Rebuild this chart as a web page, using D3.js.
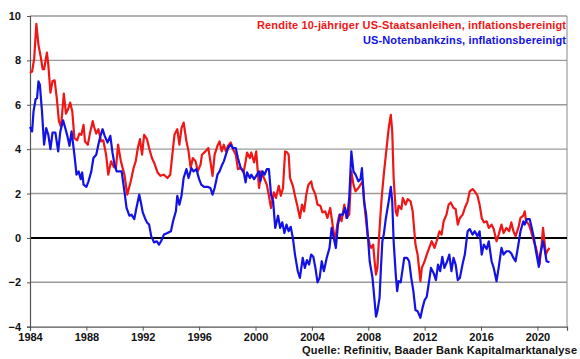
<!DOCTYPE html>
<html>
<head>
<meta charset="utf-8">
<script src="https://cdn.jsdelivr.net/npm/d3@7"></script>
<style>
    body { margin: 0; background: #fff; }
    svg { display: block; font-family: 'Liberation Sans', Arial, sans-serif; }
</style>
</head>
<body>
<div id="chart"></div>
<script>
// Rendite 10-jaehriger US-Staatsanleihen, inflationsbereinigt (rot)
const bondYears = [
    1984.0, 1984.15, 1984.3, 1984.45, 1984.6, 1984.75, 1984.9, 1985.0, 1985.2, 1985.3,
    1985.45, 1985.6, 1985.75, 1985.9, 1986.05, 1986.2, 1986.4, 1986.55, 1986.7, 1986.85,
    1987.0, 1987.15, 1987.35, 1987.5, 1987.65, 1987.8, 1987.9, 1988.1, 1988.25, 1988.45,
    1988.55, 1988.7, 1988.85, 1989.05, 1989.2, 1989.4, 1989.55, 1989.75, 1989.95, 1990.1,
    1990.25, 1990.45, 1990.7, 1990.9, 1991.15, 1991.35, 1991.5, 1991.65, 1991.8, 1991.95,
    1992.1, 1992.3, 1992.45, 1992.65, 1992.8, 1993.05, 1993.25, 1993.5, 1993.75, 1993.95,
    1994.1, 1994.25, 1994.45, 1994.6, 1994.75, 1994.9, 1995.1, 1995.25, 1995.4, 1995.55,
    1995.75, 1995.9, 1996.1, 1996.2, 1996.45, 1996.65, 1996.8, 1996.95, 1997.1, 1997.3,
    1997.45, 1997.6, 1997.75, 1997.9, 1998.05, 1998.25, 1998.4, 1998.6, 1998.75, 1998.95,
    1999.15, 1999.3, 1999.4, 1999.6, 1999.7, 1999.9, 2000.05, 2000.25, 2000.4, 2000.6,
    2000.8, 2000.95, 2001.1, 2001.3, 2001.45, 2001.65, 2001.8, 2001.95, 2002.1, 2002.25,
    2002.35, 2002.45, 2002.65, 2002.8, 2002.95, 2003.15, 2003.3, 2003.45, 2003.6, 2003.75,
    2003.95, 2004.05, 2004.25, 2004.4, 2004.6, 2004.75, 2004.95, 2005.1, 2005.3, 2005.5,
    2005.65, 2005.8, 2005.95, 2006.1, 2006.3, 2006.45, 2006.65, 2006.8, 2006.95, 2007.1,
    2007.3, 2007.45, 2007.6, 2007.75, 2007.95, 2008.1, 2008.2, 2008.35, 2008.45, 2008.55,
    2008.65, 2008.75, 2008.85, 2008.95, 2009.1, 2009.25, 2009.45, 2009.6, 2009.7, 2009.8,
    2009.95, 2010.05, 2010.15, 2010.35, 2010.45, 2010.65, 2010.8, 2011.0, 2011.15, 2011.35,
    2011.5, 2011.7, 2011.8, 2012.0, 2012.15, 2012.35, 2012.5, 2012.7, 2012.85, 2013.05,
    2013.2, 2013.35, 2013.55, 2013.7, 2013.85, 2014.05, 2014.2, 2014.35, 2014.5, 2014.7,
    2014.85, 2015.05, 2015.2, 2015.4, 2015.55, 2015.75, 2015.9, 2016.05, 2016.2, 2016.4,
    2016.55, 2016.75, 2016.9, 2017.1, 2017.25, 2017.45, 2017.6, 2017.8, 2018.0, 2018.15,
    2018.3, 2018.45, 2018.65, 2018.8, 2019.0, 2019.1, 2019.2, 2019.4, 2019.55, 2019.75,
    2019.9, 2020.05, 2020.15, 2020.3, 2020.4, 2020.5, 2020.6, 2020.7, 2020.85,
];
const bondValues = [
    7.44, 7.5, 8.1, 9.65, 8.7, 8.2, 7.6, 7.6, 8.35, 7.8,
    6.55, 7.07, 7.1, 6.3, 5.26, 5.0, 6.5, 5.6, 5.8, 6.1,
    5.7, 4.5, 4.4, 4.7, 4.65, 5.1, 4.35, 4.2, 4.7, 5.26,
    5.0, 4.7, 4.9, 4.35, 4.4, 3.75, 2.85, 3.45, 3.2, 3.15,
    4.2, 3.45, 2.85, 1.95, 2.55, 3.15, 3.45, 4.05, 4.45, 3.75,
    4.65, 4.45, 4.05, 3.6, 3.4, 2.95, 2.8, 2.85, 2.7, 2.85,
    3.75, 4.65, 4.9, 4.2, 4.95, 5.2, 4.35, 3.9, 3.15, 3.6,
    3.45, 3.0, 3.3, 3.75, 3.9, 4.05, 3.45, 2.8, 3.75, 4.15,
    4.35, 3.9, 4.2, 3.9, 4.15, 4.3, 4.0, 3.75, 3.1, 3.15,
    2.95, 3.45, 3.85, 3.6, 3.85, 3.4, 3.9, 2.25, 3.0, 2.7,
    2.4, 1.9, 1.35, 2.05, 1.8, 2.35, 1.9, 2.25, 3.9, 3.85,
    3.75, 2.7, 2.35, 1.9, 1.5, 0.9, 1.5, 1.2, 1.95, 2.4,
    2.55, 2.25, 1.95, 1.5, 1.45, 1.15, 1.2, 0.9, 1.35, 0.45,
    -0.15, 0.6, 1.05, 0.75, 1.5, 0.9, 1.05, 3.0, 2.4, 2.1,
    2.25, 2.4, 2.55, 1.35, 0.15, -0.3, -0.45, -0.3, -1.05, -1.65,
    -1.35, -0.15, 0.9, 1.8, 2.85, 3.75, 4.95, 5.55, 4.8, 2.7,
    1.2, 1.0, 1.45, 1.3, 1.8, 1.5, 1.75, 1.65, 1.2, -0.3,
    -0.75, -1.95, -1.35, -1.05, -0.75, -0.4, -0.15, -0.45, -0.15, 0.3,
    0.15, 0.75, 1.05, 1.5, 1.6, 1.35, 1.3, 0.6, 0.9, 1.05,
    1.35, 1.65, 2.1, 2.2, 2.1, 1.9, 1.5, 0.9, 0.7, 0.75,
    0.45, 0.6, 0.4, -0.15, 0.15, 0.6, 0.22, 0.45, 0.3, 0.7,
    0.3, 0.08, 0.45, 0.9, 1.0, 1.2, 0.75, 0.6, 0.3, -0.15,
    -0.45, -0.9, -1.2, -0.3, 0.45, -0.15, -0.75, -0.6, -0.45,
];

// US-Notenbankzins, inflationsbereinigt (blau)
const fedYears = [
    1984.0, 1984.15, 1984.25, 1984.4, 1984.5, 1984.6, 1984.7, 1984.85, 1985.0, 1985.15,
    1985.3, 1985.45, 1985.6, 1985.8, 1986.0, 1986.15, 1986.35, 1986.5, 1986.65, 1986.8,
    1986.95, 1987.15, 1987.3, 1987.45, 1987.6, 1987.7, 1987.8, 1988.0, 1988.15, 1988.35,
    1988.5, 1988.7, 1988.85, 1989.0, 1989.15, 1989.3, 1989.5, 1989.7, 1989.85, 1990.0,
    1990.15, 1990.3, 1990.5, 1990.7, 1990.85, 1991.05, 1991.2, 1991.4, 1991.55, 1991.75,
    1991.85, 1992.0, 1992.15, 1992.3, 1992.45, 1992.6, 1992.8, 1993.0, 1993.15, 1993.3,
    1993.5, 1993.75, 1994.0, 1994.15, 1994.35, 1994.45, 1994.6, 1994.75, 1994.9, 1995.1,
    1995.25, 1995.45, 1995.6, 1995.8, 1996.0, 1996.15, 1996.35, 1996.6, 1996.8, 1996.95,
    1997.1, 1997.3, 1997.45, 1997.6, 1997.75, 1997.9, 1998.05, 1998.25, 1998.4, 1998.6,
    1998.75, 1998.95, 1999.15, 1999.3, 1999.4, 1999.6, 1999.7, 1999.9, 2000.05, 2000.25,
    2000.35, 2000.5, 2000.65, 2000.8, 2000.95, 2001.1, 2001.25, 2001.4, 2001.6, 2001.75,
    2001.9, 2002.05, 2002.2, 2002.35, 2002.5, 2002.65, 2002.8, 2003.0, 2003.15, 2003.35,
    2003.5, 2003.65, 2003.8, 2003.95, 2004.1, 2004.25, 2004.4, 2004.55, 2004.7, 2004.85,
    2005.05, 2005.25, 2005.4, 2005.6, 2005.7, 2005.85, 2006.0, 2006.2, 2006.35, 2006.5,
    2006.65, 2006.8, 2006.95, 2007.1, 2007.3, 2007.45, 2007.55, 2007.7, 2007.85, 2008.0,
    2008.1, 2008.3, 2008.45, 2008.55, 2008.65, 2008.8, 2008.9, 2009.0, 2009.1, 2009.25,
    2009.45, 2009.6, 2009.7, 2009.8, 2009.95, 2010.05, 2010.15, 2010.3, 2010.45, 2010.55,
    2010.75, 2010.9, 2011.05, 2011.2, 2011.35, 2011.5, 2011.7, 2011.85, 2012.0, 2012.15,
    2012.35, 2012.45, 2012.65, 2012.8, 2012.95, 2013.1, 2013.25, 2013.4, 2013.6, 2013.75,
    2013.9, 2014.05, 2014.2, 2014.35, 2014.5, 2014.7, 2014.85, 2015.05, 2015.2, 2015.4,
    2015.55, 2015.75, 2015.9, 2016.05, 2016.2, 2016.4, 2016.55, 2016.75, 2016.9, 2017.1,
    2017.25, 2017.45, 2017.6, 2017.8, 2018.0, 2018.15, 2018.3, 2018.45, 2018.65, 2018.8,
    2019.0, 2019.1, 2019.25, 2019.45, 2019.6, 2019.75, 2019.9, 2020.1, 2020.2, 2020.4,
    2020.5, 2020.65, 2020.85,
];
const fedValues = [
    5.0, 4.8, 5.7, 6.25, 6.3, 7.05, 6.9, 5.7, 4.2, 4.95,
    4.65, 4.0, 4.75, 4.75, 3.9, 4.8, 5.3, 4.95, 4.6, 4.15,
    4.8, 3.75, 2.85, 3.0, 2.65, 2.95, 2.4, 2.3, 2.55, 3.0,
    3.6, 3.75, 4.2, 4.6, 4.9, 4.6, 4.3, 4.6, 3.85, 3.3,
    3.0, 3.0, 3.0, 2.1, 1.35, 1.0, 1.05, 0.85, 1.35, 1.95,
    1.65, 1.15, 0.9, 0.7, 0.6, 0.08, -0.2, -0.15, -0.3, -0.15,
    0.15, 0.22, 0.3, 0.75, 1.2, 1.9, 1.5, 1.9, 2.7, 3.1,
    2.7, 3.15, 3.0, 3.1, 2.65, 2.4, 2.3, 2.3, 2.25, 1.95,
    2.25, 2.85, 3.0, 3.25, 3.45, 3.75, 4.05, 4.2, 4.05, 4.05,
    3.6, 3.15, 3.0, 2.5, 2.95, 2.7, 2.85, 2.65, 2.8, 3.0,
    2.55, 3.0, 2.85, 3.1, 3.1, 1.95, 1.65, 0.45, 1.0, 0.45,
    0.7, 0.22, 0.6, 0.3, 0.5, 0.0, -0.75, -1.5, -1.8, -0.9,
    -1.35, -1.0, -1.2, -0.75, -0.85, -1.35, -2.0, -1.8, -1.05, -1.5,
    -0.9, -0.45, 0.45, -0.15, -0.45, 0.6, 1.05, 1.05, 1.35, 0.9,
    1.8, 3.9, 3.0, 2.85, 2.55, 2.65, 3.15, 1.65, 1.05, -0.15,
    -1.05, -1.8, -2.85, -3.55, -3.3, -2.7, -1.35, -0.15, 0.15, 0.9,
    1.65, 2.3, 1.65, -0.15, -1.65, -2.4, -1.95, -2.0, -1.35, -0.9,
    -0.9, -1.05, -1.8, -2.4, -3.25, -3.3, -3.6, -3.15, -2.8, -2.65,
    -1.8, -1.35, -1.6, -1.9, -1.2, -1.5, -0.85, -1.35, -1.05, -0.75,
    -1.5, -0.9, -1.2, -1.9, -1.8, -1.15, -0.75, 0.3, 0.4, 0.15,
    0.3, 0.08, 0.3, -0.75, -0.3, -0.5, -0.15, -1.05, -1.35, -1.95,
    -1.35, -0.45, -0.75, -0.6, -0.6, -0.7, -0.9, -1.05, -0.3, 0.3,
    0.75, 0.6, 0.85, 0.85, 0.45, 0.0, -0.6, -1.3, -0.75, -0.15,
    -0.45, -1.05, -1.1,
];

const xTicks = [1984, 1988, 1992, 1996, 2000, 2004, 2008, 2012, 2016, 2020];
const yTicks = [-4, -2, 0, 2, 4, 6, 8, 10];

const seriesNames = [
    'Rendite 10-jähriger US-Staatsanleihen, inflationsbereinigt',
    'US-Notenbankzins, inflationsbereinigt',
];
const sourceText = 'Quelle: Refinitiv, Baader Bank Kapitalmarktanalyse';

const W = 580;
const H = 359;
const margin = {top: 16, right: 13, bottom: 32, left: 30};
const red = '#f01616';
const blue = '#1212e6';

const x = d3.scaleLinear()
    .domain([1984, 2022.1])
    .range([margin.left, W - margin.right]);

const y = d3.scaleLinear()
    .domain([-4, 10])
    .range([H - margin.bottom - 0.3, margin.top]);

const svg = d3.select('#chart')
    .append('svg')
    .attr('width', W)
    .attr('height', H);

// gridlines
svg.append('g')
    .selectAll('line')
    .data(yTicks.filter((d) => d !== 0 && d !== -4))
    .enter()
    .append('line')
    .attr('x1', margin.left)
    .attr('x2', W - margin.right)
    .attr('y1', (d) => y(d))
    .attr('y2', (d) => y(d))
    .attr('stroke', '#9a9a9a')
    .attr('stroke-width', 1.4);

// right border
svg.append('line')
    .attr('x1', W - margin.right)
    .attr('x2', W - margin.right)
    .attr('y1', y(10))
    .attr('y2', y(-4))
    .attr('stroke', '#8a8a8a')
    .attr('stroke-width', 1);

// zero line, under the series
svg.append('line')
    .attr('x1', margin.left)
    .attr('x2', W - margin.right)
    .attr('y1', y(0))
    .attr('y2', y(0))
    .attr('stroke', '#000')
    .attr('stroke-width', 2);

const xAxis = d3.axisBottom(x)
    .tickValues(xTicks)
    .tickFormat(d3.format('d'))
    .tickSize(4)
    .tickPadding(3);

const yAxis = d3.axisLeft(y)
    .tickValues(yTicks)
    .tickFormat(d3.format('d'))
    .tickSize(3)
    .tickPadding(6);

const gx = svg.append('g')
    .attr('transform', 'translate(0,' + y(-4) + ')')
    .call(xAxis);

const gy = svg.append('g')
    .attr('transform', 'translate(' + margin.left + ',0)')
    .call(yAxis);

[gx, gy].forEach((g) => {
    g.select('.domain').attr('stroke', '#555').attr('stroke-width', 1.2);
    g.selectAll('.tick line').attr('stroke', '#555');
    g.selectAll('.tick text')
        .attr('fill', '#111')
        .style('font-size', '11px')
        .style('font-weight', 'bold')
        .style('font-family', "'Liberation Sans', Arial, sans-serif");
});

const line = d3.line()
    .x((d) => x(d[0]))
    .y((d) => y(d[1]));

svg.append('path')
    .datum(d3.zip(bondYears, bondValues))
    .attr('fill', 'none')
    .attr('stroke', red)
    .attr('stroke-width', 2.2)
    .attr('stroke-linejoin', 'round')
    .attr('d', line);

svg.append('path')
    .datum(d3.zip(fedYears, fedValues))
    .attr('fill', 'none')
    .attr('stroke', blue)
    .attr('stroke-width', 2.2)
    .attr('stroke-linejoin', 'round')
    .attr('d', line);

// legend
const legend = [
    {text: seriesNames[0], color: red, y: 29, len: 309},
    {text: seriesNames[1], color: blue, y: 44, len: 203},
];

svg.selectAll('.legend')
    .data(legend)
    .enter()
    .append('text')
    .attr('class', 'legend')
    .attr('x', 566)
    .attr('y', (d) => d.y)
    .attr('text-anchor', 'end')
    .attr('fill', (d) => d.color)
    .attr('textLength', (d) => d.len)
    .style('font-size', '11px')
    .style('font-weight', 'bold')
    .text((d) => d.text);

svg.append('text')
    .attr('x', 577)
    .attr('y', 354)
    .attr('text-anchor', 'end')
    .attr('fill', '#111')
    .attr('textLength', 275)
    .style('font-size', '11px')
    .style('font-weight', 'bold')
    .text(sourceText);
</script>
</body>
</html>
